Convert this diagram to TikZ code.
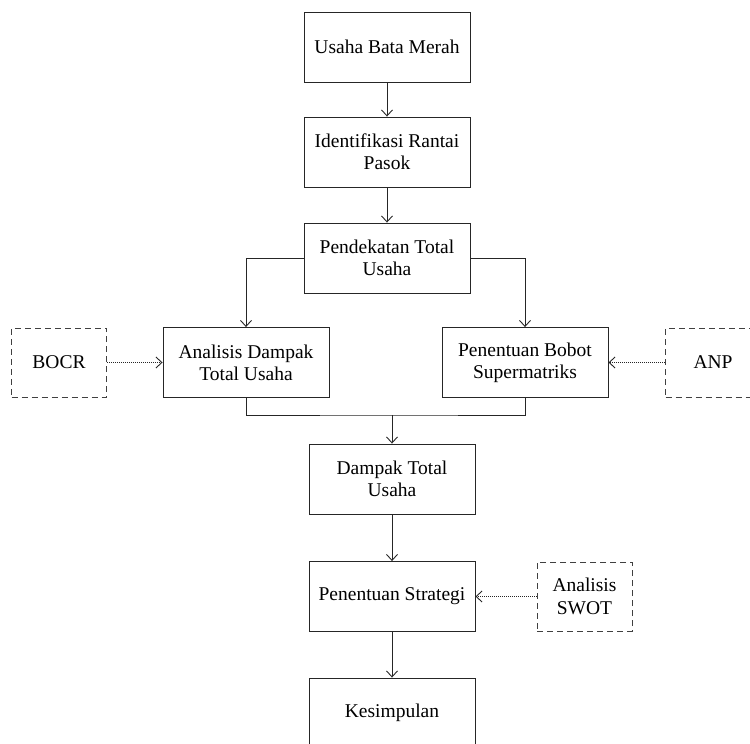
\documentclass[tikz,border=0pt]{standalone}
\usepackage{fontspec}
\setmainfont{Liberation Serif}
\usetikzlibrary{arrows.meta}
\begin{document}
\begin{tikzpicture}[x=1pt,y=-1pt,
  line width=0.9pt,
  every node/.style={font=\fontsize{19.5}{22.3}\selectfont, align=center, inner sep=0pt},
  box/.style={draw=black!85, minimum width=166pt, minimum height=70pt},
  sidebox/.style={draw=black!75, dash pattern=on 6pt off 4pt, minimum width=95pt, minimum height=69pt},
  arr/.style={draw=black!85, -{Straight Barb[length=6pt,width=11pt]}},
  dotarr/.style={draw=black!85, dash pattern=on 1pt off 1pt, -{Straight Barb[length=6pt,width=11pt]}},
  ln/.style={draw=black!85}]
\useasboundingbox (0,0) rectangle (750,744);
\node[box] (b1) at (387,47) {Usaha Bata Merah};
\node[box] (b2) at (387,152) {Identifikasi Rantai\\Pasok};
\node[box] (b3) at (387,258) {Pendekatan Total\\Usaha};
\node[box] (b4) at (246,362.5) {Analisis Dampak\\Total Usaha};
\node[box] (b5) at (525,362.5) {Penentuan Bobot\\Supermatriks};
\node[sidebox] (bocr) at (59,362.5) {BOCR};
\node[sidebox] (anp) at (713,362.5) {ANP};
\node[box] (b6) at (392,479) {Dampak Total\\Usaha};
\node[box] (b7) at (392,596.5) {Penentuan Strategi};
\node[sidebox] (swot) at (584.5,596.5) {Analisis\\SWOT};
\node[box] (b8) at (392,713) {Kesimpulan};
\coordinate (j) at (392,415);
\draw[arr] (b1.south) -- (b2.north);
\draw[arr] (b2.south) -- (b3.north);
\draw[arr] (b3.west) -| (b4.north);
\draw[arr] (b3.east) -| (b5.north);
\draw[ln] (b4.south) |- (j) -| (b5.south);
\draw[arr] (j) -- (b6.north);
\draw[arr] (b6.south) -- (b7.north);
\draw[arr] (b7.south) -- (b8.north);
\draw[dotarr] (bocr.east) -- (b4.west);
\draw[dotarr] (anp.west) -- (b5.east);
\draw[dotarr] (swot.west) -- (b7.east);
\end{tikzpicture}
\end{document}
